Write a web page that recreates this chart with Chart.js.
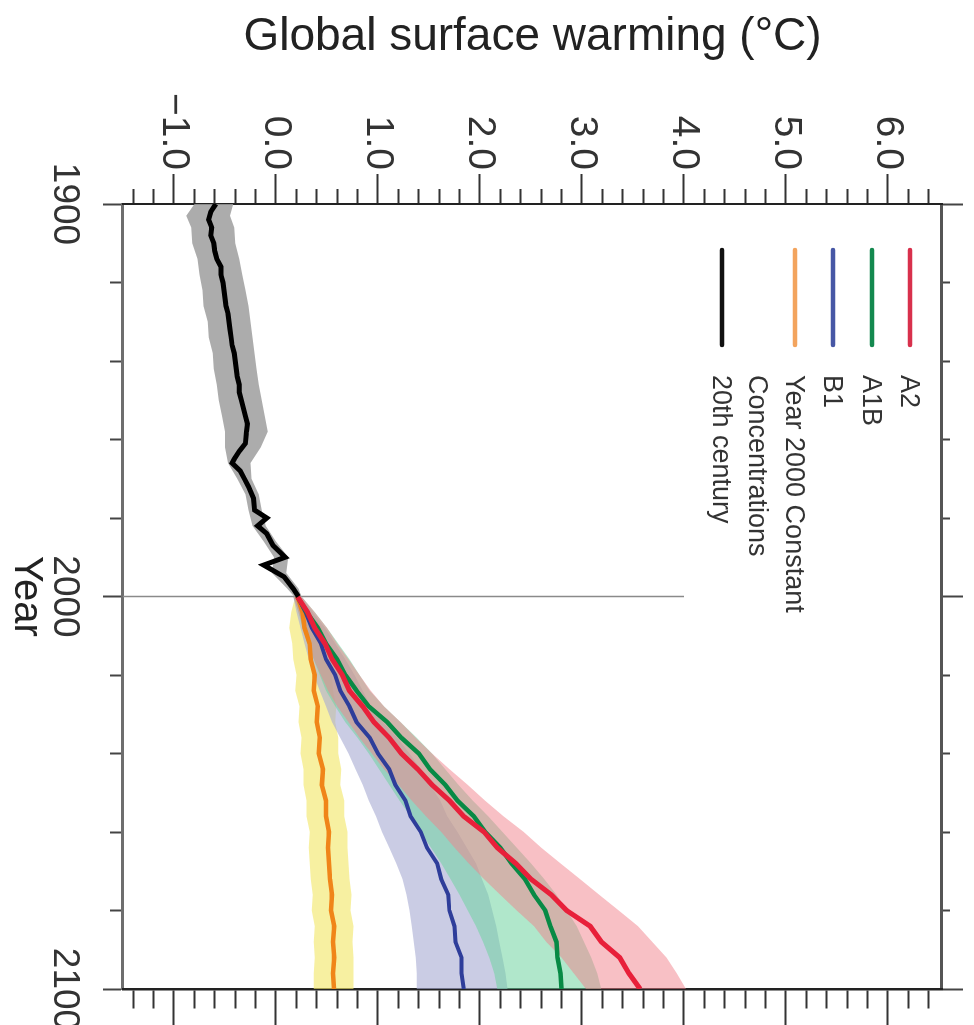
<!DOCTYPE html>
<html>
<head>
<meta charset="utf-8">
<title>Global surface warming</title>
<script src="https://cdn.jsdelivr.net/npm/chart.js@4.4.1/dist/chart.umd.min.js"></script>
<style>
    html, body { margin: 0; padding: 0; background: #fff; }
    body { width: 974px; height: 1025px; overflow: hidden; position: relative; }
    /* the chart is drawn lying down, then turned a quarter clockwise */
    #wrap {
        position: absolute; left: 0; top: 0;
        width: 1025px; height: 974px;
        transform-origin: 0 0;
        transform: translateX(974px) rotate(90deg);
    }
</style>
</head>
<body>
<div id="wrap"><canvas id="warmingChart" width="1025" height="974"></canvas></div>
<script>
(function () {
    'use strict';

    /* ── 20th century (black) and its grey spread ── */
    var years20c = [1900, 1902, 1904, 1906, 1908, 1910, 1912, 1914, 1916, 1918, 1920, 1922, 1924, 1926, 1928,
        1930, 1932, 1934, 1936, 1938, 1940, 1942, 1944, 1946, 1948, 1950, 1952, 1954, 1956, 1958, 1961,
        1963, 1965, 1966, 1968, 1970, 1972, 1975, 1978, 1980, 1982, 1984, 1987, 1990, 1992, 1995, 1998, 2000];
    var warming20c = [-0.59, -0.64, -0.66, -0.63, -0.64, -0.61, -0.60, -0.58, -0.54, -0.54, -0.52, -0.51, -0.50, -0.49, -0.47,
        -0.46, -0.45, -0.44, -0.43, -0.41, -0.40, -0.39, -0.38, -0.36, -0.36, -0.34, -0.32, -0.30, -0.28, -0.29, -0.30,
        -0.36, -0.41, -0.43, -0.35, -0.31, -0.27, -0.22, -0.21, -0.09, -0.18, -0.09, -0.03, 0.09, -0.12, 0.08, 0.17, 0.22];

    var spreadYears20c = [1900, 1903, 1906, 1910, 1914, 1918, 1922, 1926, 1930, 1934, 1938, 1942, 1946, 1950,
        1954, 1958, 1962, 1966, 1970, 1974, 1978, 1982, 1986, 1990, 1994, 1998, 2000];
    var spread20cLow = [-0.80, -0.88, -0.83, -0.82, -0.77, -0.75, -0.72, -0.71, -0.67, -0.66, -0.62, -0.61, -0.58, -0.56,
        -0.53, -0.50, -0.50, -0.47, -0.38, -0.30, -0.27, -0.23, -0.12, -0.02, -0.04, 0.11, 0.18];
    var spread20cHigh = [-0.42, -0.45, -0.41, -0.40, -0.36, -0.33, -0.30, -0.27, -0.25, -0.23, -0.21, -0.19, -0.17, -0.14,
        -0.11, -0.08, -0.15, -0.25, -0.24, -0.17, -0.14, -0.10, 0.00, 0.12, 0.10, 0.22, 0.25];

    /* ── scenario projections, 2000-2100 ── */
    var scenarioYears = [2000, 2004, 2008, 2012, 2016, 2020, 2024, 2028, 2032, 2036, 2040, 2044, 2048, 2052,
        2056, 2060, 2064, 2068, 2072, 2076, 2080, 2084, 2088, 2092, 2096, 2100];

    var a2Mean = [0.21, 0.31, 0.38, 0.48, 0.55, 0.65, 0.72, 0.85, 0.96, 1.11, 1.23, 1.39, 1.53, 1.70,
        1.84, 2.04, 2.17, 2.35, 2.50, 2.70, 2.85, 3.08, 3.19, 3.37, 3.46, 3.57];
    var a2Low = [0.17, 0.22, 0.27, 0.32, 0.37, 0.44, 0.51, 0.60, 0.71, 0.82, 0.94, 1.06, 1.20, 1.33,
        1.47, 1.62, 1.75, 1.89, 2.04, 2.20, 2.36, 2.53, 2.65, 2.80, 2.92, 3.04];
    var a2High = [0.25, 0.38, 0.50, 0.60, 0.71, 0.82, 0.93, 1.06, 1.22, 1.37, 1.53, 1.70, 1.88, 2.05,
        2.23, 2.43, 2.60, 2.79, 2.98, 3.17, 3.36, 3.55, 3.69, 3.83, 3.93, 4.02];

    var a1bMean = [0.21, 0.30, 0.41, 0.49, 0.60, 0.68, 0.79, 0.91, 1.09, 1.23, 1.40, 1.51, 1.66, 1.78,
        1.94, 2.05, 2.20, 2.31, 2.44, 2.53, 2.64, 2.69, 2.75, 2.76, 2.79, 2.80];
    var a1bLow = [0.17, 0.22, 0.26, 0.31, 0.37, 0.43, 0.49, 0.58, 0.68, 0.80, 0.91, 1.01, 1.11, 1.21,
        1.32, 1.42, 1.52, 1.62, 1.71, 1.80, 1.88, 1.96, 2.03, 2.09, 2.14, 2.17];
    var a1bHigh = [0.25, 0.38, 0.50, 0.61, 0.72, 0.82, 0.92, 1.06, 1.22, 1.38, 1.53, 1.66, 1.79, 1.93,
        2.08, 2.22, 2.36, 2.50, 2.63, 2.75, 2.85, 2.95, 3.02, 3.09, 3.15, 3.19];

    var b1Mean = [0.21, 0.29, 0.35, 0.44, 0.49, 0.58, 0.63, 0.72, 0.79, 0.92, 1.00, 1.11, 1.17, 1.27,
        1.32, 1.42, 1.48, 1.58, 1.62, 1.69, 1.70, 1.75, 1.76, 1.82, 1.82, 1.84];
    var b1Low = [0.17, 0.20, 0.24, 0.28, 0.32, 0.37, 0.43, 0.49, 0.55, 0.63, 0.71, 0.78, 0.85, 0.91,
        0.98, 1.04, 1.11, 1.18, 1.24, 1.28, 1.31, 1.33, 1.35, 1.37, 1.38, 1.38];
    var b1High = [0.25, 0.36, 0.48, 0.58, 0.68, 0.77, 0.85, 0.93, 1.05, 1.19, 1.31, 1.42, 1.51, 1.61,
        1.68, 1.78, 1.87, 1.96, 2.02, 2.08, 2.12, 2.16, 2.19, 2.22, 2.25, 2.27];

    var constMean = [0.21, 0.26, 0.28, 0.33, 0.34, 0.38, 0.37, 0.41, 0.40, 0.43, 0.42, 0.46, 0.45, 0.49,
        0.49, 0.52, 0.51, 0.52, 0.53, 0.55, 0.54, 0.57, 0.56, 0.57, 0.56, 0.57];
    var constLow = [0.19, 0.15, 0.13, 0.16, 0.17, 0.20, 0.19, 0.23, 0.22, 0.25, 0.24, 0.27, 0.27, 0.30,
        0.30, 0.33, 0.32, 0.33, 0.34, 0.36, 0.35, 0.38, 0.37, 0.38, 0.37, 0.37];
    var constHigh = [0.23, 0.33, 0.45, 0.49, 0.52, 0.55, 0.56, 0.59, 0.58, 0.61, 0.61, 0.64, 0.63, 0.67,
        0.67, 0.70, 0.70, 0.71, 0.72, 0.74, 0.73, 0.76, 0.75, 0.76, 0.76, 0.76];

    /* ── axes ── */
    var labelledYears = [1900, 2000, 2100];
    var markerYear = 2000;
    var markerRange = [-1.5, 4.0];

    var legendLabels = [['A2'], ['A1B'], ['B1'], ['Year 2000 Constant', 'Concentrations'], ['20th century']];
    var legendColors = ['#d8304c', '#14894f', '#4757a5', '#f3a45e', '#111111'];

    var FONT = "'Liberation Sans', Arial, Helvetica, sans-serif";

    function toPoints(xs, ys) {
        return xs.map(function (x, i) { return { x: x, y: ys[i] }; });
    }

    function lineSet(label, xs, ys, color, width, order) {
        return {
            label: label,
            data: toPoints(xs, ys),
            borderColor: color,
            borderWidth: width,
            pointRadius: 0,
            tension: 0,
            fill: false,
            order: order
        };
    }

    // pushes a lower edge and an upper edge filled down to it
    function pushBand(list, xs, low, high, color, order) {
        list.push({
            label: 'low', data: toPoints(xs, low), borderWidth: 0, borderColor: 'rgba(0,0,0,0)',
            pointRadius: 0, tension: 0, fill: false, order: order
        });
        list.push({
            label: 'high', data: toPoints(xs, high), borderWidth: 0, borderColor: 'rgba(0,0,0,0)',
            backgroundColor: color, pointRadius: 0, tension: 0, fill: '-1', order: order - 1
        });
    }

    function isWhole(v) {
        return Math.abs(v - Math.round(v)) < 1e-6;
    }

    function isLabelledYear(v) {
        return labelledYears.indexOf(Math.round(v)) !== -1;
    }

    function formatWarming(v) {
        if (!isWhole(v)) return '';
        var r = Math.round(v);
        return r < 0 ? '\u2212' + Math.abs(r).toFixed(1) : r.toFixed(1);
    }

    // short minor ticks: border-first sides draw from the frame out, the others from the tip in
    function dashFromFrame(shortLen) {
        return [shortLen, 300];
    }

    function dashToFrame(shortLen, fullLen) {
        return [0, fullLen - shortLen, shortLen, 300];
    }

    var datasets = [];

    datasets.push({
        label: 'year 2000',
        data: [{ x: markerYear, y: markerRange[0] }, { x: markerYear, y: markerRange[1] }],
        borderColor: '#8a8a8a', borderWidth: 1.5, pointRadius: 0, fill: false, order: 100
    });

    pushBand(datasets, spreadYears20c, spread20cLow, spread20cHigh, 'rgba(158,158,158,0.85)', 90);
    pushBand(datasets, scenarioYears, constLow, constHigh, 'rgba(242,232,110,0.65)', 80);
    pushBand(datasets, scenarioYears, b1Low, b1High, 'rgba(170,172,212,0.62)', 70);
    pushBand(datasets, scenarioYears, a1bLow, a1bHigh, 'rgba(112,212,160,0.55)', 60);
    pushBand(datasets, scenarioYears, a2Low, a2High, 'rgba(242,130,140,0.5)', 50);

    datasets.push(lineSet('Year 2000 Constant Concentrations', scenarioYears, constMean, '#f08519', 4.5, 40));
    datasets.push(lineSet('B1', scenarioYears, b1Mean, '#2e3d9a', 4, 30));
    datasets.push(lineSet('A1B', scenarioYears, a1bMean, '#078a45', 4.5, 20));
    datasets.push(lineSet('A2', scenarioYears, a2Mean, '#e8203a', 5, 10));
    datasets.push(lineSet('20th century', years20c, warming20c, '#000000', 5, 5));

    var insideLegend = {
        id: 'insideLegend',
        afterDatasetsDraw: function (chart) {
            var ctx = chart.ctx;
            var area = chart.chartArea;
            var rows = [32, 70, 109, 147, 220];
            var x0 = area.left + 46;
            var x1 = area.left + 141;
            var tx = area.left + 171;

            ctx.save();
            ctx.font = '27px ' + FONT;
            ctx.textAlign = 'left';
            ctx.textBaseline = 'middle';
            ctx.lineWidth = 4.5;
            ctx.lineCap = 'round';
            legendLabels.forEach(function (lines, i) {
                var y = area.top + rows[i];
                ctx.strokeStyle = legendColors[i];
                ctx.beginPath();
                ctx.moveTo(x0, y);
                ctx.lineTo(x1, y);
                ctx.stroke();
                ctx.fillStyle = '#333';
                lines.forEach(function (txt, j) {
                    ctx.fillText(txt, tx, y + 2 + j * 37);
                });
            });
            ctx.restore();
        }
    };

    Chart.defaults.font.family = FONT;
    Chart.defaults.color = '#333';

    new Chart(document.getElementById('warmingChart'), {
        type: 'line',
        data: { datasets: datasets },
        plugins: [insideLegend],
        options: {
            responsive: false,
            animation: false,
            events: [],
            layout: { autoPadding: false, padding: 0 },
            plugins: { legend: { display: false }, tooltip: { enabled: false } },
            scales: {
                x: {
                    type: 'linear', position: 'bottom', min: 1900, max: 2100,
                    afterFit: function (s) { s.height = 123; s.paddingLeft = 0; s.paddingRight = 0; },
                    border: { display: true, color: '#6e6e6e', width: 3 },
                    grid: {
                        drawOnChartArea: false, tickLength: 20, tickColor: '#444', tickWidth: 2,
                        tickBorderDash: function (c) { return c.tick && isLabelledYear(c.tick.value) ? [] : dashFromFrame(11); }
                    },
                    ticks: {
                        stepSize: 20, autoSkip: false, maxRotation: 0, padding: 17,
                        font: { size: 37 }, color: '#333',
                        callback: function (v) { return isLabelledYear(v) ? String(Math.round(v)) : ''; }
                    },
                    title: { display: true, text: 'Year', font: { size: 40 }, color: '#222', padding: { top: 0, bottom: 2 } }
                },
                x2: {
                    type: 'linear', position: 'top', min: 1900, max: 2100,
                    afterFit: function (s) { s.height = 32; s.paddingLeft = 0; s.paddingRight = 0; },
                    border: { display: true, color: '#555', width: 3 },
                    grid: {
                        drawOnChartArea: false, tickLength: 21, tickColor: '#444', tickWidth: 2,
                        tickBorderDash: function (c) { return c.tick && isLabelledYear(c.tick.value) ? [] : dashToFrame(8, 21); }
                    },
                    ticks: { stepSize: 20, autoSkip: false, display: false }
                },
                y: {
                    type: 'linear', position: 'left', min: -1.5, max: 6.53,
                    afterFit: function (s) { s.width = 204; s.paddingTop = 0; s.paddingBottom = 0; },
                    border: { display: true, color: '#222', width: 2 },
                    grid: {
                        drawOnChartArea: false, tickLength: 30, tickColor: '#333', tickWidth: 2,
                        tickBorderDash: function (c) { return c.tick && isWhole(c.tick.value) ? [] : dashToFrame(15, 30); }
                    },
                    ticks: {
                        stepSize: 0.2, autoSkip: false, includeBounds: false, padding: 4,
                        font: { size: 39 }, color: '#333',
                        callback: formatWarming
                    },
                    title: { display: true, text: 'Global surface warming (\u00b0C)', font: { size: 46 }, color: '#222', padding: { top: 10, bottom: 0 } }
                },
                y2: {
                    type: 'linear', position: 'right', min: -1.5, max: 6.53,
                    afterFit: function (s) { s.width = 36; s.paddingTop = 0; s.paddingBottom = 0; },
                    border: { display: true, color: '#222', width: 2.5 },
                    grid: {
                        drawOnChartArea: false, tickLength: 40, tickColor: '#333', tickWidth: 2,
                        tickBorderDash: function (c) { return c.tick && isWhole(c.tick.value) ? [] : dashFromFrame(18); }
                    },
                    ticks: { stepSize: 0.2, autoSkip: false, includeBounds: false, display: false }
                }
            }
        }
    });
})();
</script>
</body>
</html>
